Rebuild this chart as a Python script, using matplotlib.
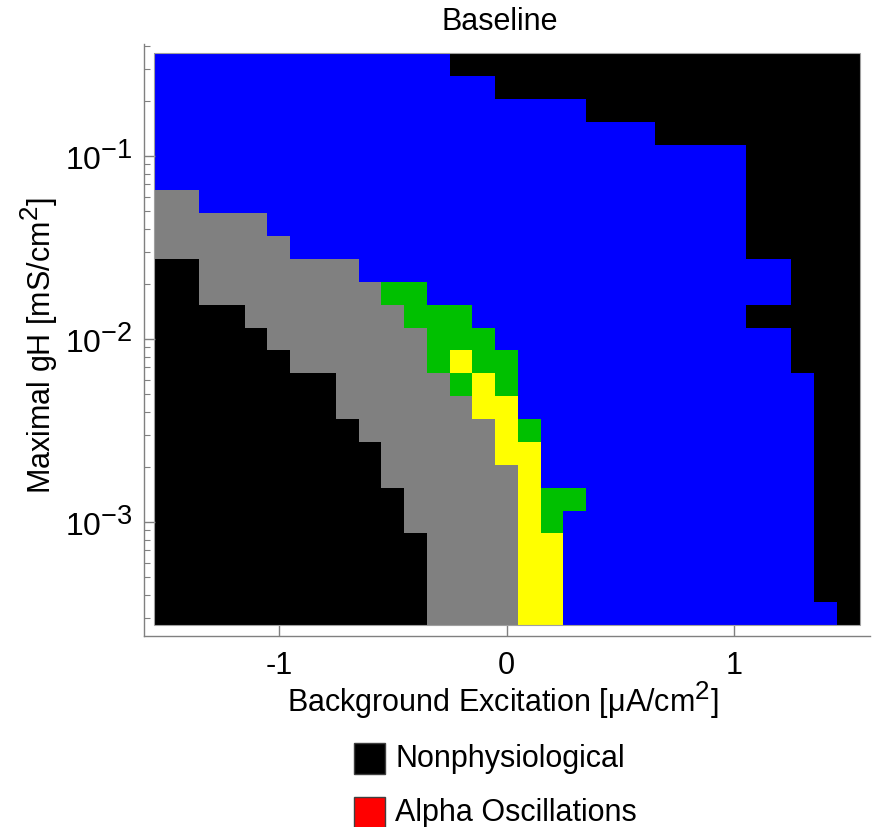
import numpy as np
import matplotlib
matplotlib.use("Agg")
import matplotlib.pyplot as plt
from matplotlib.colors import ListedColormap, BoundaryNorm
from matplotlib.patches import Rectangle
from matplotlib.ticker import LogLocator, NullFormatter

try:
    import matplotlib._mathtext as _mt
    _mt.SHRINK_FACTOR = 0.85
except Exception:
    pass

plt.rcParams['font.family'] = ['Liberation Sans', 'DejaVu Sans']
plt.rcParams['mathtext.fontset'] = 'custom'
plt.rcParams['mathtext.rm'] = 'Liberation Sans'
plt.rcParams['mathtext.it'] = 'Liberation Sans:italic'
plt.rcParams['mathtext.default'] = 'regular'

# ---- data -------------------------------------------------------------
# background excitation grid (x, uA/cm2) and maximal gH grid (y, mS/cm2)
excitation = np.linspace(-1.5, 1.5, 31)
gH_log10 = np.linspace(-3.5, -0.5, 25)
gH = 10 ** gH_log10

# regime categories
category_names = ["Nonphysiological", "Tonic", "Silent", "Mixed", "Alpha Oscillations"]
category_codes = {"K": 0, "B": 1, "G": 2, "N": 3, "Y": 4}
category_colors = ["#000000", "#0000ff", "#808080", "#00c000", "#ffff00"]

# run-length rows of the regime map, top row (largest gH) first
regime_rows = [
    "B13 K18",
    "B15 K16",
    "B19 K12",
    "B22 K9",
    "B26 K5",
    "B26 K5",
    "G2 B24 K5",
    "G5 B21 K5",
    "G6 B20 K5",
    "K2 G7 B19 K3",
    "K2 G8 N2 B16 K3",
    "K4 G7 N3 B12 K5",
    "K5 G7 N3 B13 K3",
    "K6 G6 N1 Y1 N2 B12 K3",
    "K8 G5 N1 Y1 N1 B13 K2",
    "K8 G6 Y2 B13 K2",
    "K9 G6 Y1 N1 B12 K2",
    "K10 G5 Y2 B12 K2",
    "K10 G6 Y1 B12 K2",
    "K11 G5 Y1 N2 B10 K2",
    "K11 G5 Y1 N1 B11 K2",
    "K12 G4 Y2 B11 K2",
    "K12 G4 Y2 B11 K2",
    "K12 G4 Y2 B11 K2",
    "K12 G4 Y2 B12 K1",
]

legend_labels = ["Nonphysiological", "Alpha Oscillations"]
legend_colors = ["#000000", "#ff0000"]

# ---- build matrix -----------------------------------------------------
def decode(row):
    vals = []
    for tok in row.split():
        vals += [category_codes[tok[0]]] * int(tok[1:])
    return vals

Z = np.array([decode(r) for r in regime_rows][::-1], dtype=float)

dx = np.diff(excitation).mean()
x_edges = np.concatenate([[excitation[0] - dx / 2], (excitation[:-1] + excitation[1:]) / 2,
                          [excitation[-1] + dx / 2]])
dl = np.diff(gH_log10).mean()
l_edges = np.concatenate([[gH_log10[0] - dl / 2], (gH_log10[:-1] + gH_log10[1:]) / 2,
                          [gH_log10[-1] + dl / 2]])
y_edges = 10 ** l_edges

# ---- figure -----------------------------------------------------------
W, H = 884, 828
fig = plt.figure(figsize=(W / 100, H / 100), dpi=100)
ax = fig.add_axes([144 / W, (H - 637) / H, 726 / W, 592 / H])

cmap = ListedColormap(category_colors)
norm = BoundaryNorm(np.arange(-0.5, len(category_colors) + 0.5, 1), cmap.N)
ax.pcolormesh(x_edges, y_edges, Z, cmap=cmap, norm=norm, shading='flat')
ax.add_patch(Rectangle((x_edges[0], y_edges[0]), x_edges[-1] - x_edges[0],
                       y_edges[-1] - y_edges[0], fill=False, ec='#a0a0a0', lw=0.8, zorder=3))

ax.set_yscale('log')
ax.set_xlim(-1.592, 1.596)
ax.set_ylim(10 ** -3.6226, 10 ** -0.3883)

for s in ['top', 'right']:
    ax.spines[s].set_visible(False)
for s in ['left', 'bottom']:
    ax.spines[s].set_color('#808080')
    ax.spines[s].set_linewidth(1.0)

ax.set_xticks([-1, 0, 1])
ax.set_xticklabels(['-1', '0', '1'])
ax.set_yticks([1e-3, 1e-2, 1e-1])
ax.set_yticklabels([r'$10^{-3}$', r'$10^{-2}$', r'$10^{-1}$'])
ax.yaxis.set_minor_locator(LogLocator(base=10, subs=np.arange(2, 10)))
ax.yaxis.set_minor_formatter(NullFormatter())
ax.tick_params(which='major', direction='in', color='#808080', length=8, width=1,
               labelsize=22, labelcolor='black')
ax.tick_params(which='minor', direction='in', color='#808080', length=4, width=0.8)
ax.tick_params(axis='x', pad=10)
ax.tick_params(axis='y', pad=8, labelsize=23)

ax.set_xlabel('Background Excitation [μA/cm$^2$]', fontsize=22)
ax.xaxis.label.set_va('center')
ax.xaxis.set_label_coords((503 - 144) / 726, (637 - 700) / 592)
ax.set_ylabel('Maximal gH [mS/cm$^2$]', fontsize=22)
ax.yaxis.label.set_va('center')
ax.yaxis.set_label_coords((39 - 144) / 726, (637 - 346) / 592)

fig.text(500 / W, 1 - 22 / H, 'Baseline', ha='center', va='center', fontsize=22)

# legend below the plot
sq = 31
legend_y = [744, 798]
for lab, col, yt in zip(legend_labels, legend_colors, legend_y):
    fig.add_artist(Rectangle((354 / W, 1 - (yt + sq) / H), sq / W, sq / H,
                             transform=fig.transFigure, fc=col, ec='#404040', lw=1))
    fig.text(395 / W, 1 - (yt + sq / 2) / H, lab, ha='left', va='center', fontsize=22)

fig.savefig('out.png', dpi=100)
